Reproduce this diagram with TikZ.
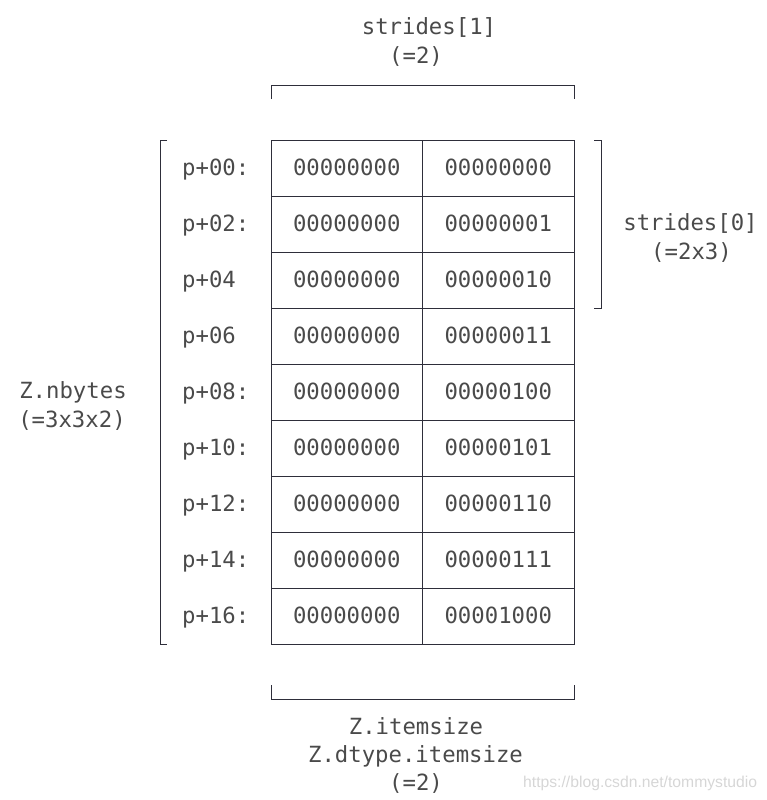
\documentclass[tikz,border=0pt]{standalone}
\usepackage{fontspec}
\setmonofont{DejaVu Sans Mono}
\newfontfamily\wmfont{Liberation Sans}
\definecolor{txt}{HTML}{4A4A4A}
\definecolor{ln}{HTML}{2E2E3A}
\definecolor{wm}{HTML}{D6D6D6}
\begin{document}
\begin{tikzpicture}[x=1pt,y=-1pt,
  lab/.style={font=\ttfamily\fontsize{22.3}{27}\selectfont, text=txt, inner sep=0pt, text height=0.73em, text depth=0pt},
  cell/.style={draw=ln, line width=0.9pt, minimum width=151.5pt, minimum height=56pt, outer sep=0pt, inner sep=0pt},
  brk/.style={draw=ln, line width=0.9pt}]
\useasboundingbox (0,0) rectangle (767,800);
\foreach \i/\a/\b/\p in {0/00000000/00000000/p+00:,1/00000000/00000001/p+02:,2/00000000/00000010/p+04,3/00000000/00000011/p+06,4/00000000/00000100/p+08:,5/00000000/00000101/p+10:,6/00000000/00000110/p+12:,7/00000000/00000111/p+14:,8/00000000/00001000/p+16:}{
  \node[cell] (a\i) at (346.75,168+56*\i) {};
  \node[cell] (b\i) at (498.25,168+56*\i) {};
  \node[lab] (ta\i) at ([yshift=-4pt]a\i.center) {\a};
  \node[lab] (tb\i) at ([yshift=-4pt]b\i.center) {\b};
  \node[lab, anchor=west] (p\i) at (182,172+56*\i) {\p};
}
% top bracket
\coordinate (tl) at (271,85); \coordinate (tr) at (574,85);
\draw[brk] ([yshift=-14pt]tl) -- (tl) -- (tr) -- ([yshift=-14pt]tr);
% bottom bracket
\coordinate (bl) at (271,699); \coordinate (br) at (574,699);
\draw[brk] ([yshift=14pt]bl) -- (bl) -- (br) -- ([yshift=14pt]br);
% left bracket
\coordinate (lt) at (160,140); \coordinate (lb) at (160,644);
\draw[brk] ([xshift=7pt]lt) -- (lt) -- (lb) -- ([xshift=7pt]lb);
% right bracket
\coordinate (rt) at (601,140); \coordinate (rb) at (601,308);
\draw[brk] ([xshift=-7pt]rt) -- (rt) -- (rb) -- ([xshift=-7pt]rb);
% labels
\node[lab] (s1) at (429,31) {strides[1]};
\node[lab] (s1v) at (416,60) {(=2)};
\node[lab] (s0) at (690.5,227) {strides[0]};
\node[lab] (s0v) at (691.5,256) {(=2x3)};
\node[lab] (nb) at (73,395) {Z.nbytes};
\node[lab] (nbv) at (72,424) {(=3x3x2)};
\node[lab] (is) at (416,731) {Z.itemsize};
\node[lab] (dis) at (415.5,759) {Z.dtype.itemsize};
\node[lab] (isv) at (416,787) {(=2)};
\node[font=\wmfont\fontsize{15.7}{18}\selectfont, text=wm, inner sep=0pt, anchor=west] (wmk) at (523,783) {https://blog.csdn.net/tommystudio};
\end{tikzpicture}
\end{document}
